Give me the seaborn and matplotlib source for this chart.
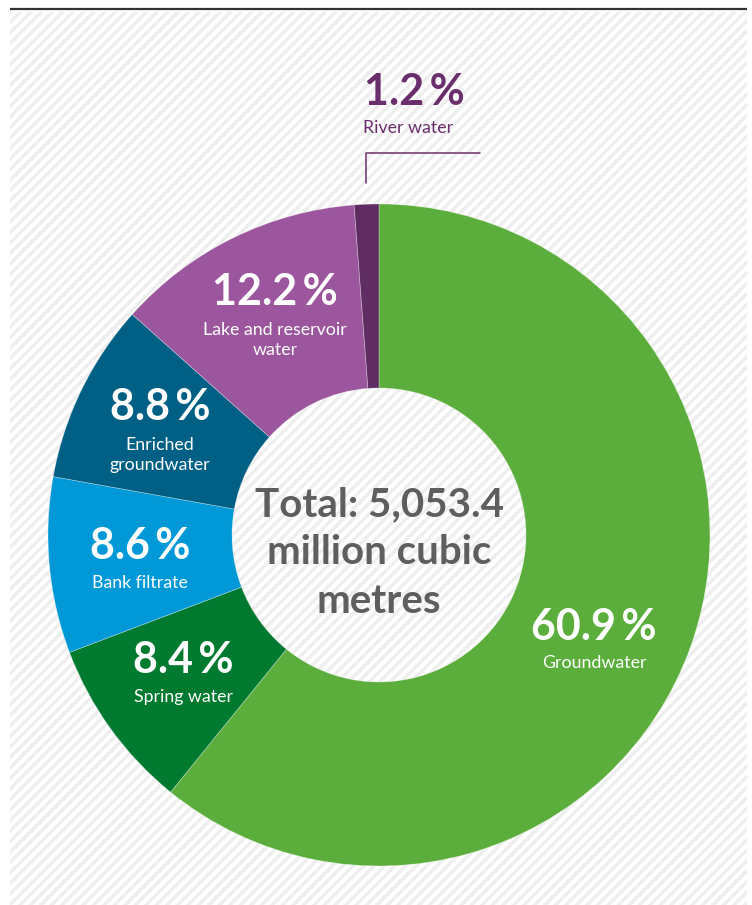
import numpy as np
import matplotlib
matplotlib.use("Agg")
import matplotlib.pyplot as plt
from matplotlib.collections import LineCollection
from matplotlib.patches import Rectangle
import seaborn as sns

# Drinking water sources by share of total abstraction
sources = ["Groundwater", "Spring water", "Bank filtrate",
           "Enriched groundwater", "Lake and reservoir water", "River water"]
shares = [60.9, 8.4, 8.6, 8.8, 12.2, 1.2]
label_lines = ["Groundwater", "Spring water", "Bank filtrate",
               "Enriched\ngroundwater", "Lake and reservoir\nwater", "River water"]
total_volume = 5053.4
total_unit = "million cubic\nmetres"

colors = ["#5bae3b", "#007a2f", "#0098d7", "#005f84", "#9c569d", "#5f2d61"]
outside_color = "#6b2e6c"
center_color = "#5e5e5e"

sns.set_theme(style="white")
plt.rcParams["font.family"] = ["Lato", "DejaVu Sans"]

W, H = 752, 905
DPI = 100
fig = plt.figure(figsize=(W / DPI, H / DPI), dpi=DPI)
fig.patch.set_facecolor("white")


def fx(px):
    return px / W


def fy(py):
    return 1 - py / H


# Striped backdrop in pixel coordinates
bg = fig.add_axes([0, 0, 1, 1], zorder=0)
bg.set_xlim(0, W)
bg.set_ylim(H, 0)
bg.axis("off")
box = Rectangle((10, 12), 737, 900, transform=bg.transData,
                facecolor="white", edgecolor="none")
bg.add_patch(box)
offsets = np.arange(-20, W + H + 20, 10.5)
segs = [[(c, 0), (c - H - 20, H + 20)] for c in offsets]
stripes = LineCollection(segs, colors="#eeeeee", linewidths=2.4)
bg.add_collection(stripes)
stripes.set_clip_path(box)
bg.plot([10, 747], [9.5, 9.5], color="#333333", lw=1.6, solid_capstyle="butt")

# Donut
cx, cy, r_out, r_in = 379, 535, 331, 147
ax = fig.add_axes([fx(cx - r_out), fy(cy + r_out), 2 * r_out / W, 2 * r_out / H], zorder=1)
ax.patch.set_visible(False)
ax.pie(shares, colors=colors, startangle=90, counterclock=False, radius=1,
       wedgeprops=dict(width=(r_out - r_in) / r_out, linewidth=0.5, edgecolor="#ffffff66"))
ax.set_xlim(-1, 1)
ax.set_ylim(-1, 1)
ax.axis("off")

# Labels: (x, y) centres of the percentage and of the description, in pixels
pct_pos = [(594, 627), (183, 660), (140, 546), (160, 407), (275, 292), (414, 92)]
name_pos = [(594, 663), (183, 697), (140, 583), (160, 455), (275, 340), (408, 128)]
for i, (share, name) in enumerate(zip(shares, label_lines)):
    col = outside_color if i == len(shares) - 1 else "white"
    fig.text(fx(pct_pos[i][0]), fy(pct_pos[i][1]), f"{share}\u2009%",
             ha="center", va="center", fontsize=31, fontweight="bold", color=col)
    fig.text(fx(name_pos[i][0]), fy(name_pos[i][1]), name,
             ha="center", va="center", fontsize=12.8, color=col, linespacing=1.25)

# Leader line for the thin slice
bg.plot([480, 365.5, 365.5], [153.5, 153.5, 183], color=outside_color, lw=1.1)

# Centre total
total_txt = f"Total: {total_volume:,.1f}\n{total_unit}"
fig.text(fx(cx), fy(553), total_txt, ha="center", va="center", fontsize=29,
         fontweight="bold", color=center_color, linespacing=1.38)

fig.savefig("out.png", dpi=DPI)
